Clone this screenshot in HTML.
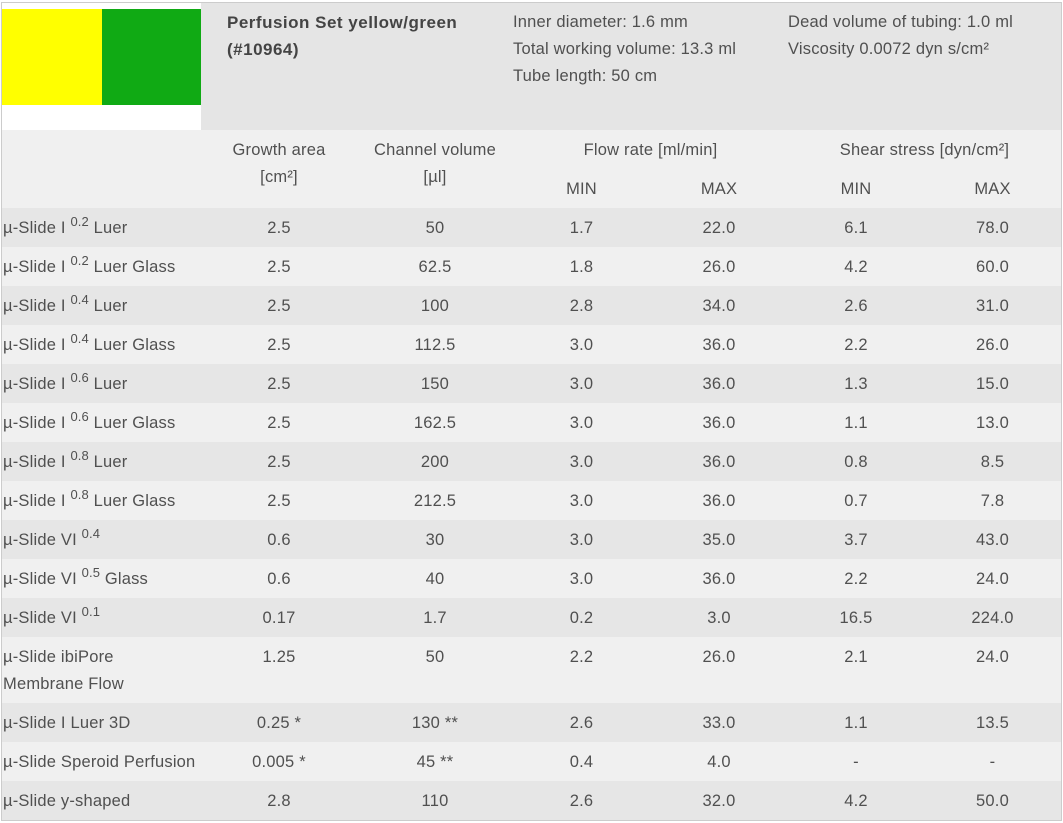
<!DOCTYPE html>
<html>
<head>
<meta charset="utf-8">
<style>
  html, body { margin:0; padding:0; background:#fff; }
  body { width:1063px; height:823px; position:relative; overflow:hidden;
         font-family:"Liberation Sans", "DejaVu Sans", sans-serif; color:#505050; font-size:16.5px; letter-spacing:0.2px; }
  .frame { position:absolute; left:1px; top:2px; width:1059px; height:817px; border:1px solid #cccccc; }
  .abs { position:absolute; }
  .row { position:absolute; left:2px; width:1059px; }
  .d { background:#e6e6e6; }
  .l { background:#f0f0f0; }
  .c { position:absolute; top:7px; line-height:27px; text-align:center; white-space:nowrap; }
  .c0 { left:1px; width:198px; text-align:left; white-space:normal; }
  .c1 { left:199px; width:156px; }
  .c2 { left:355px; width:156px; }
  .c3 { left:511px; width:137px; }
  .c4 { left:648px; width:138px; }
  .c5 { left:786px; width:136px; }
  .c6 { left:922px; width:137px; }
  sup { font-size:13px; line-height:0; position:relative; top:-1px; vertical-align:6px; letter-spacing:0.1px; }
  .title { font-weight:bold; color:#444; font-size:17px; letter-spacing:0.5px; line-height:27px; }
  .info { line-height:27px; white-space:nowrap; }
</style>
</head>
<body>
<div class="frame"></div>

<!-- top header -->
<div class="abs" style="left:201px;top:3px;width:860px;height:127px;background:#e5e5e5;"></div>
<div class="abs" style="left:2px;top:9px;width:100px;height:96px;background:#ffff00;"></div>
<div class="abs" style="left:102px;top:9px;width:99px;height:96px;background:#10aa14;"></div>

<div class="abs title" style="left:227px;top:9px;">Perfusion Set yellow/green<br>(#10964)</div>
<div class="abs info" style="left:513px;top:9px;">Inner diameter: 1.6 mm<br>Total working volume: 13.3 ml<br>Tube length: 50 cm</div>
<div class="abs info" style="left:788px;top:9px;">Dead volume of tubing: 1.0 ml<br>Viscosity 0.0072 dyn s/cm²</div>

<!-- column header -->
<div class="row l" style="top:130px;height:78px;">
  <div class="c c1">Growth area<br>[cm²]</div>
  <div class="c c2">Channel volume<br>[µl]</div>
  <div class="c" style="left:511px;width:275px;">Flow rate [ml/min]</div>
  <div class="c" style="left:786px;width:273px;">Shear stress [dyn/cm²]</div>
  <div class="c c3" style="top:46px;">MIN</div>
  <div class="c c4" style="top:46px;">MAX</div>
  <div class="c c5" style="top:46px;">MIN</div>
  <div class="c c6" style="top:46px;">MAX</div>
</div>

<div class="row d" style="top:208px;height:39px;">
  <div class="c c0">µ-Slide I <sup>0.2</sup> Luer</div><div class="c c1">2.5</div><div class="c c2">50</div><div class="c c3">1.7</div><div class="c c4">22.0</div><div class="c c5">6.1</div><div class="c c6">78.0</div>
</div>
<div class="row l" style="top:247px;height:39px;">
  <div class="c c0">µ-Slide I <sup>0.2</sup> Luer Glass</div><div class="c c1">2.5</div><div class="c c2">62.5</div><div class="c c3">1.8</div><div class="c c4">26.0</div><div class="c c5">4.2</div><div class="c c6">60.0</div>
</div>
<div class="row d" style="top:286px;height:39px;">
  <div class="c c0">µ-Slide I <sup>0.4</sup> Luer</div><div class="c c1">2.5</div><div class="c c2">100</div><div class="c c3">2.8</div><div class="c c4">34.0</div><div class="c c5">2.6</div><div class="c c6">31.0</div>
</div>
<div class="row l" style="top:325px;height:39px;">
  <div class="c c0">µ-Slide I <sup>0.4</sup> Luer Glass</div><div class="c c1">2.5</div><div class="c c2">112.5</div><div class="c c3">3.0</div><div class="c c4">36.0</div><div class="c c5">2.2</div><div class="c c6">26.0</div>
</div>
<div class="row d" style="top:364px;height:39px;">
  <div class="c c0">µ-Slide I <sup>0.6</sup> Luer</div><div class="c c1">2.5</div><div class="c c2">150</div><div class="c c3">3.0</div><div class="c c4">36.0</div><div class="c c5">1.3</div><div class="c c6">15.0</div>
</div>
<div class="row l" style="top:403px;height:39px;">
  <div class="c c0">µ-Slide I <sup>0.6</sup> Luer Glass</div><div class="c c1">2.5</div><div class="c c2">162.5</div><div class="c c3">3.0</div><div class="c c4">36.0</div><div class="c c5">1.1</div><div class="c c6">13.0</div>
</div>
<div class="row d" style="top:442px;height:39px;">
  <div class="c c0">µ-Slide I <sup>0.8</sup> Luer</div><div class="c c1">2.5</div><div class="c c2">200</div><div class="c c3">3.0</div><div class="c c4">36.0</div><div class="c c5">0.8</div><div class="c c6">8.5</div>
</div>
<div class="row l" style="top:481px;height:39px;">
  <div class="c c0">µ-Slide I <sup>0.8</sup> Luer Glass</div><div class="c c1">2.5</div><div class="c c2">212.5</div><div class="c c3">3.0</div><div class="c c4">36.0</div><div class="c c5">0.7</div><div class="c c6">7.8</div>
</div>
<div class="row d" style="top:520px;height:39px;">
  <div class="c c0">µ-Slide VI <sup>0.4</sup></div><div class="c c1">0.6</div><div class="c c2">30</div><div class="c c3">3.0</div><div class="c c4">35.0</div><div class="c c5">3.7</div><div class="c c6">43.0</div>
</div>
<div class="row l" style="top:559px;height:39px;">
  <div class="c c0">µ-Slide VI <sup>0.5</sup> Glass</div><div class="c c1">0.6</div><div class="c c2">40</div><div class="c c3">3.0</div><div class="c c4">36.0</div><div class="c c5">2.2</div><div class="c c6">24.0</div>
</div>
<div class="row d" style="top:598px;height:39px;">
  <div class="c c0">µ-Slide VI <sup>0.1</sup></div><div class="c c1">0.17</div><div class="c c2">1.7</div><div class="c c3">0.2</div><div class="c c4">3.0</div><div class="c c5">16.5</div><div class="c c6">224.0</div>
</div>
<div class="row l" style="top:637px;height:66px;">
  <div class="c c0">µ-Slide ibiPore<br>Membrane Flow</div><div class="c c1">1.25</div><div class="c c2">50</div><div class="c c3">2.2</div><div class="c c4">26.0</div><div class="c c5">2.1</div><div class="c c6">24.0</div>
</div>
<div class="row d" style="top:703px;height:39px;">
  <div class="c c0">µ-Slide I Luer 3D</div><div class="c c1">0.25 *</div><div class="c c2">130 **</div><div class="c c3">2.6</div><div class="c c4">33.0</div><div class="c c5">1.1</div><div class="c c6">13.5</div>
</div>
<div class="row l" style="top:742px;height:39px;">
  <div class="c c0" style="white-space:nowrap;">µ-Slide Speroid Perfusion</div><div class="c c1">0.005 *</div><div class="c c2">45 **</div><div class="c c3">0.4</div><div class="c c4">4.0</div><div class="c c5">-</div><div class="c c6">-</div>
</div>
<div class="row d" style="top:781px;height:39px;">
  <div class="c c0">µ-Slide y-shaped</div><div class="c c1">2.8</div><div class="c c2">110</div><div class="c c3">2.6</div><div class="c c4">32.0</div><div class="c c5">4.2</div><div class="c c6">50.0</div>
</div>

</body>
</html>
